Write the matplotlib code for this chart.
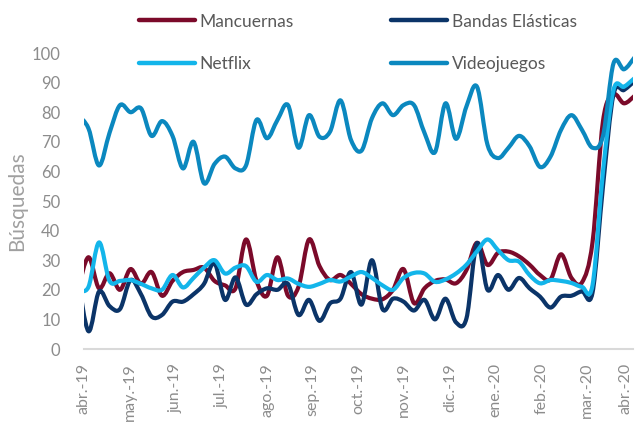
import numpy as np
import matplotlib
matplotlib.use('Agg')
import matplotlib.pyplot as plt
from matplotlib.path import Path
from matplotlib.patches import PathPatch
from matplotlib.lines import Line2D

plt.rcParams['font.family'] = ['Lato', 'DejaVu Sans']

# weekly search index (Google Trends style), one value per week
mancuernas = [20, 31, 20.5, 25.6, 20, 27, 22, 26, 18, 23, 26, 26.7, 27.5, 23, 21.5, 20.5,
              37, 23, 18, 31, 18, 21, 37, 28, 23.3, 25, 22, 18.5, 17, 16.8, 20, 27,
              15.5, 20.5, 23, 23.5, 22.2, 26.7, 35.9, 28.4, 32.5, 32.9, 31.3, 28.5, 25, 23.5,
              32, 24, 22.5, 36, 77, 86, 83, 85.5]
bandas = [24, 6, 19.4, 14.5, 13.5, 23.3, 18.5, 11, 11.5, 16, 16, 18.5, 22, 29, 16.6, 24.2,
          15, 18.5, 20.5, 20, 22, 11.5, 16.6, 9.5, 15.4, 17, 26, 15, 30, 13.5, 17, 16,
          13, 16.6, 10, 17, 9, 10.4, 35.7, 20, 25, 20, 24, 20.5, 17.7, 14,
          17.7, 18, 19.5, 19, 55, 86, 87.5, 90.5]
netflix = [20, 21, 36, 23, 23, 23.3, 22, 20.5, 20, 25, 20.8, 24, 27.5, 30, 25.5, 27.5,
           28, 22.7, 25, 23.3, 23.8, 22, 21, 22, 23.3, 22.8, 24.5, 26, 24, 21.5, 20, 24,
           25.7, 25.5, 22.7, 23.5, 25.5, 28.5, 33, 37, 33.4, 30, 29.5, 25, 22.2, 23.3,
           23, 22.3, 21, 21.5, 60, 87.5, 88.6, 91.5]
videojuegos = [79, 74.5, 62, 73, 82.4, 80, 81.3, 72, 77, 72, 61, 70, 56, 62.5, 65, 61,
               62, 77.4, 71.2, 77.4, 82.4, 68, 79, 71.7, 73.4, 84, 70.6, 67, 78, 83, 79, 82.4,
               82.4, 73, 66.5, 83, 71, 82, 88.6, 69, 64.5, 68, 72, 68.5, 61.5, 65,
               74, 79, 74, 68, 72, 96.5, 94.5, 98.5]

series_names = ['Mancuernas', 'Bandas Elásticas', 'Netflix', 'Videojuegos']
series_colors = ['#7b0a2a', '#0b3468', '#13b5ea', '#0b88bf']
month_labels = ['abr.-19', 'may.-19', 'jun.-19', 'jul.-19', 'ago.-19', 'sep.-19', 'oct.-19',
                'nov.-19', 'dic.-19', 'ene.-20', 'feb.-20', 'mar.-20', 'abr.-20']

weeks = np.arange(len(videojuegos))


def smooth_path(xs, ys):
    # bezier segments through every point, like excel's smoothed line
    pts = np.column_stack([xs, ys]).astype(float)
    n = len(pts)
    verts = [pts[0]]
    codes = [Path.MOVETO]
    for i in range(n - 1):
        p0 = pts[max(i - 1, 0)]
        p1 = pts[i]
        p2 = pts[i + 1]
        p3 = pts[min(i + 2, n - 1)]
        verts += [p1 + (p2 - p0) / 6, p2 - (p3 - p1) / 6, p2]
        codes += [Path.CURVE4] * 3
    return Path(verts, codes)


fig = plt.figure(figsize=(6.39, 4.32), dpi=100)
ax = fig.add_axes([84 / 639, 1 - 349 / 432, (633 - 84) / 639, (349 - 53) / 432])

for vals, col in zip([mancuernas, bandas, netflix, videojuegos], series_colors):
    patch = PathPatch(smooth_path(weeks, vals), facecolor='none', edgecolor=col,
                      lw=3.0, capstyle='round', joinstyle='round')
    ax.add_patch(patch)

x0, x1 = 0.571, 52.857
ax.set_xlim(x0, x1)
ax.set_ylim(0, 100)
ax.set_yticks(range(0, 101, 10))
ax.set_xticks(np.linspace(x0, x1, 13))
ax.set_xticklabels(month_labels, rotation=90, va='top', ha='center')

for s in ['top', 'right', 'left']:
    ax.spines[s].set_visible(False)
ax.spines['bottom'].set_color('#d9d9d9')
ax.spines['bottom'].set_linewidth(1.5)
ax.tick_params(axis='both', length=0, labelcolor='#8c8c8c', labelsize=12)
ax.tick_params(axis='x', labelsize=11.5)
ax.tick_params(axis='y', pad=17)
ax.tick_params(axis='x', pad=10)
# last label sits at the very edge of the figure, nudge it in a little
ax.get_xticklabels()[-1].set_ha('right')
ax.get_xticklabels()[-1].set_rotation_mode('anchor')
ax.get_xticklabels()[-1].set_va('bottom')

fig.text(17 / 639, 1 - 201 / 432, 'Búsquedas', rotation=90, ha='center', va='center',
         fontsize=15, color='#a0a0a0')

# legend fills column by column, so order it to read row-wise like the original
order = [0, 2, 1, 3]
handles = [Line2D([], [], color=series_colors[i], lw=3.2, solid_capstyle='round') for i in order]
labels = [series_names[i] for i in order]
fig.legend(handles, labels, ncol=2, loc='center', bbox_to_anchor=(358 / 639, 1 - 43 / 432),
           frameon=False, fontsize=12.5, labelcolor='#595959', handlelength=3.2,
           handletextpad=0.3, columnspacing=5.6, labelspacing=1.55)

fig.savefig('out.png', dpi=100)
